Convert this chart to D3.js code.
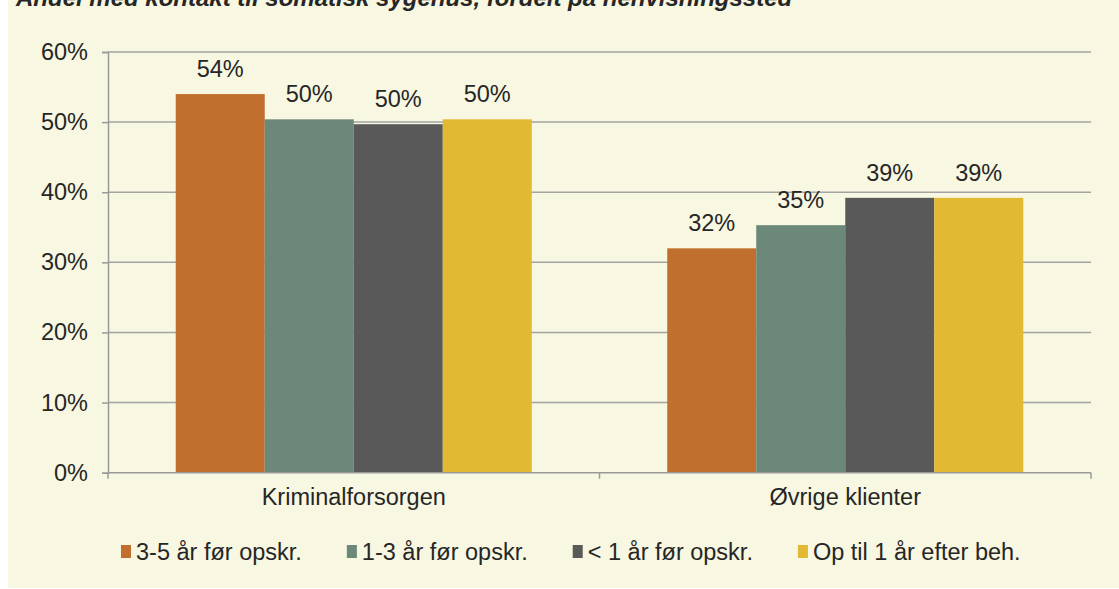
<!DOCTYPE html>
<html>
<head>
<meta charset="utf-8">
<script src="https://cdn.jsdelivr.net/npm/d3@7"></script>
<style>
  html, body { margin: 0; padding: 0; background: #ffffff; }
  text { font-family: "Liberation Sans", Arial, sans-serif; fill: #262626; }
</style>
</head>
<body>
<div id="chart"></div>
<script>
var w = 1119, h = 589;

// data
var categories = ["Kriminalforsorgen", "Øvrige klienter"];
var seriesNames = ["3-5 år før opskr.", "1-3 år før opskr.", "< 1 år før opskr.", "Op til 1 år efter beh."];
var s35 = [0.540, 0.320];
var s13 = [0.504, 0.353];
var s1 = [0.497, 0.392];
var sEfter = [0.504, 0.392];
var yTicks = [0, 0.1, 0.2, 0.3, 0.4, 0.5, 0.6];
var colors = ["#c06f2e", "#6b8878", "#595959", "#e2b932"];
var title = "Andel med kontakt til somatisk sygehus, fordelt på henvisningssted";

var allSeries = [s35, s13, s1, sEfter];

var svg = d3.select("#chart").append("svg")
    .attr("width", w)
    .attr("height", h);

// panel background
svg.append("rect")
    .attr("x", 8).attr("y", 0)
    .attr("width", w - 8).attr("height", h - 1)
    .attr("fill", "#f8f7e1");

// title, cut off at the top like in the original
svg.append("text")
    .attr("x", 16).attr("y", 6)
    .attr("font-size", "24px")
    .attr("font-weight", "bold")
    .style("font-style", "italic")
    .text(title);

var x0 = d3.scaleBand()
    .domain(categories)
    .range([108, 1091]);

var x1 = d3.scaleBand()
    .domain(seriesNames)
    .range([0, x0.bandwidth()])
    .paddingOuter(0.761);

var y = d3.scaleLinear()
    .domain([0, 0.6])
    .range([472.7, 52]);

// gridlines
svg.append("g").selectAll("line")
    .data(yTicks.slice(1))
    .enter().append("line")
    .attr("x1", 108).attr("x2", 1091)
    .attr("y1", function (d) { return y(d); })
    .attr("y2", function (d) { return y(d); })
    .attr("stroke", "#a3a3a3")
    .attr("stroke-width", 1.5);

// y axis
var yAxis = d3.axisLeft(y)
    .tickValues(yTicks)
    .tickSize(6)
    .tickPadding(14)
    .tickFormat(d3.format(".0%"));

var gy = svg.append("g")
    .attr("transform", "translate(108,0)")
    .call(yAxis);
gy.selectAll("path, line").attr("stroke", "#9a9a9a").attr("stroke-width", 1.5);
gy.selectAll("text").attr("font-size", "23.5px").attr("fill", "#262626")
    .attr("font-family", "'Liberation Sans', Arial, sans-serif");

// bars
var groups = svg.append("g").selectAll("g")
    .data(categories)
    .enter().append("g")
    .attr("transform", function (d) { return "translate(" + x0(d) + ",0)"; });

groups.selectAll("rect")
    .data(function (d, ci) {
        return seriesNames.map(function (s, si) { return { s: s, si: si, v: allSeries[si][ci] }; });
    })
    .enter().append("rect")
    .attr("x", function (d) { return x1(d.s); })
    .attr("y", function (d) { return y(d.v); })
    .attr("width", x1.bandwidth())
    .attr("height", function (d) { return y(0) - y(d.v); })
    .attr("fill", function (d) { return colors[d.si]; });

groups.selectAll("text.lbl")
    .data(function (d, ci) {
        return seriesNames.map(function (s, si) { return { s: s, si: si, v: allSeries[si][ci] }; });
    })
    .enter().append("text")
    .attr("class", "lbl")
    .attr("x", function (d) { return x1(d.s) + x1.bandwidth() / 2; })
    .attr("y", function (d) { return y(d.v) - 17; })
    .attr("text-anchor", "middle")
    .attr("font-size", "23.5px")
    .text(function (d) { return Math.round(d.v * 100) + "%"; });

// x axis
var xAxis = d3.axisBottom(x0).tickSize(0).tickPadding(22);
var gx = svg.append("g")
    .attr("transform", "translate(0," + y(0) + ")")
    .call(xAxis);
gx.select("path").attr("stroke", "#9a9a9a").attr("stroke-width", 1.5).attr("d", "M108,0H1091");
gx.selectAll("text").attr("font-size", "23.5px").attr("fill", "#262626")
    .attr("font-family", "'Liberation Sans', Arial, sans-serif")
    .attr("dy", "0.45em");

// boundary ticks between categories
var bounds = [108, x0(categories[1]), 1091];
gx.selectAll("line.bnd")
    .data(bounds)
    .enter().append("line")
    .attr("class", "bnd")
    .attr("x1", function (d) { return d; }).attr("x2", function (d) { return d; })
    .attr("y1", 0).attr("y2", 6)
    .attr("stroke", "#9a9a9a").attr("stroke-width", 1.5);

// legend
var legend = svg.append("g");
var lx = 121;
seriesNames.forEach(function (s, i) {
    legend.append("rect")
        .attr("x", lx).attr("y", 545)
        .attr("width", 10).attr("height", 13)
        .attr("fill", colors[i]);
    var t = legend.append("text")
        .attr("x", lx + 15).attr("y", 560)
        .attr("font-size", "23.5px")
        .text(s);
    lx += 15 + t.node().getComputedTextLength() + 45;
});
</script>
</body>
</html>
